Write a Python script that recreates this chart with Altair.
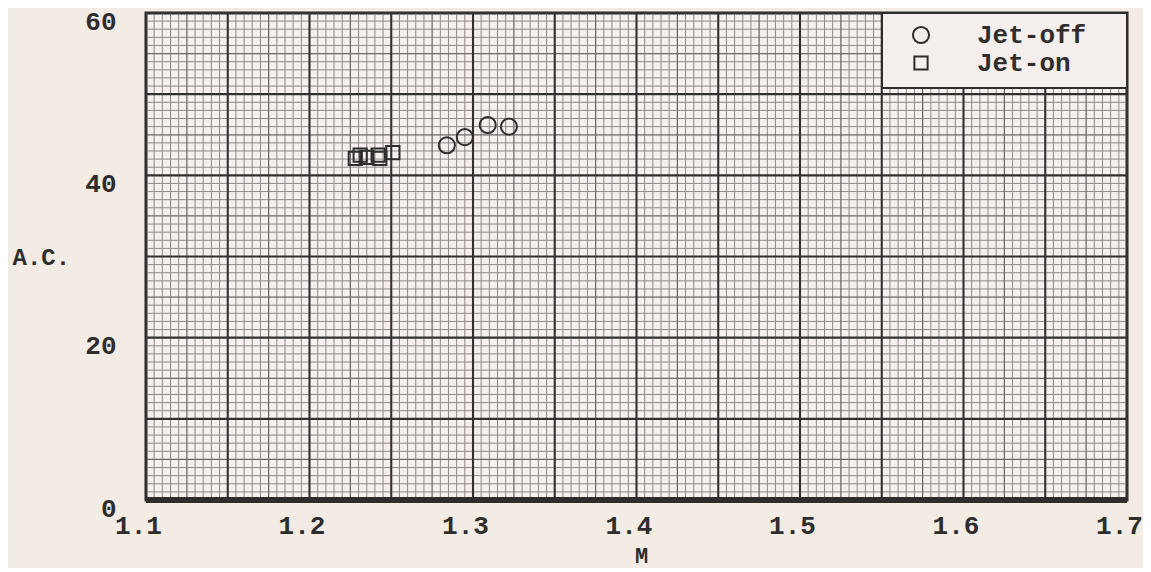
import altair as alt
import pandas as pd

# ---- data ----
jet_off_M = [1.284, 1.295, 1.309, 1.322]
jet_off_AC = [43.7, 44.7, 46.2, 46.0]
jet_on_M = [1.228, 1.231, 1.235, 1.242, 1.243, 1.251]
jet_on_AC = [42.1, 42.5, 42.2, 42.5, 42.1, 42.8]
series = ["Jet-off", "Jet-on"]
x_ticks = [1.1, 1.2, 1.3, 1.4, 1.5, 1.6, 1.7]
y_ticks = [0, 20, 40, 60]

pts = pd.DataFrame(
    {
        "M": jet_off_M + jet_on_M,
        "AC": jet_off_AC + jet_on_AC,
        "series": [series[0]] * len(jet_off_M) + [series[1]] * len(jet_on_M),
    }
)

# ---- graph-paper rulings ----
xg = []
for i in range(121):
    v = round(1.1 + i * 0.005, 4)
    kind = "heavy" if i % 10 == 0 else ("medium" if i % 5 == 0 else "minor")
    xg.append({"v": v, "kind": kind})
yg = []
for j in range(61):
    kind = "heavy" if j % 10 == 0 else ("medium" if j % 5 == 0 else "minor")
    yg.append({"v": j, "kind": kind})
xg = pd.DataFrame(xg)
yg = pd.DataFrame(yg)

styles = {"minor": ("#8d8988", 1.0), "medium": ("#6a6766", 1.25), "heavy": ("#333130", 2.1)}

xs = alt.Scale(domain=[1.1, 1.7], nice=False, zero=False)
ys = alt.Scale(domain=[0, 60], nice=False)

FONT = "Liberation Mono"
INK = "#2f2d2c"

layers = []
for kind in ["minor", "medium", "heavy"]:
    col, w = styles[kind]
    layers.append(
        alt.Chart(xg[xg.kind == kind])
        .mark_rule(color=col, strokeWidth=w)
        .encode(x=alt.X("v:Q", scale=xs))
    )
    layers.append(
        alt.Chart(yg[yg.kind == kind])
        .mark_rule(color=col, strokeWidth=w)
        .encode(y=alt.Y("v:Q", scale=ys))
    )

bottom = (
    alt.Chart(pd.DataFrame({"v": [0]}))
    .mark_rule(color=INK, strokeWidth=6)
    .encode(y=alt.Y("v:Q", scale=ys))
)

# frame of the key (pasted-on label box at the top-right corner)
key_box = (
    alt.Chart(pd.DataFrame({"k": [0]}))
    .mark_rect(fill="#f4efec", stroke=INK, strokeWidth=2)
    .encode(x=alt.value(736), x2=alt.value(981), y=alt.value(0), y2=alt.value(75))
)

legend = alt.Legend(
    title=None,
    orient="none",
    legendX=762,
    legendY=9,
    padding=0,
    rowPadding=2,
    labelOffset=43,
    symbolStrokeColor=INK,
    symbolStrokeWidth=2,
    symbolFillColor="transparent",
    labelFont=FONT,
    labelFontSize=26,
    labelFontWeight="bold",
    labelColor=INK,
)

points = (
    alt.Chart(pts)
    .mark_point(filled=False, strokeWidth=2, color=INK, opacity=1)
    .encode(
        x=alt.X(
            "M:Q",
            scale=xs,
            axis=alt.Axis(
                values=x_ticks,
                format=".1f",
                grid=False,
                ticks=False,
                domain=False,
                labelFont=FONT,
                labelFontSize=26,
                labelFontWeight="bold",
                labelColor=INK,
                labelPadding=12,
                labelOffset=-8,
                labelFlush=False,
                labelOverlap=False,
                title="M",
                titleFont=FONT,
                titleFontSize=22,
                titleFontWeight="bold",
                titleColor=INK,
                titleX=495,
                titleY=55,
                titleAlign="center",
                titleBaseline="middle",
            ),
        ),
        y=alt.Y(
            "AC:Q",
            scale=ys,
            axis=alt.Axis(
                values=y_ticks,
                grid=False,
                ticks=False,
                domain=False,
                labelFont=FONT,
                labelFontSize=26,
                labelFontWeight="bold",
                labelColor=INK,
                labelPadding=30,
                labelOffset=8,
                labelFlush=False,
                labelOverlap=False,
                title="A.C.",
                titleFont=FONT,
                titleFontSize=24,
                titleFontWeight="bold",
                titleColor=INK,
                titleAngle=0,
                titleX=-134,
                titleY=244,
                titleAlign="left",
                titleBaseline="middle",
            ),
        ),
        shape=alt.Shape(
            "series:N",
            scale=alt.Scale(domain=series, range=["circle", "square"]),
            legend=legend,
        ),
        size=alt.Size(
            "series:N",
            scale=alt.Scale(domain=series, range=[260, 175]),
            legend=legend,
        ),
    )
)

chart = (
    alt.layer(*layers, bottom, key_box, points)
    .properties(
        width=981,
        height=487,
        autosize=alt.AutoSizeParams(type="none"),
        padding={"left": 138, "top": 5, "right": 16, "bottom": 68},
        background="#f3ece4",
    )
    .configure_view(fill="#f5f0ee", stroke=INK, strokeWidth=3)
)

chart.save("out.html", embed_options={"renderer": "svg", "actions": False})
